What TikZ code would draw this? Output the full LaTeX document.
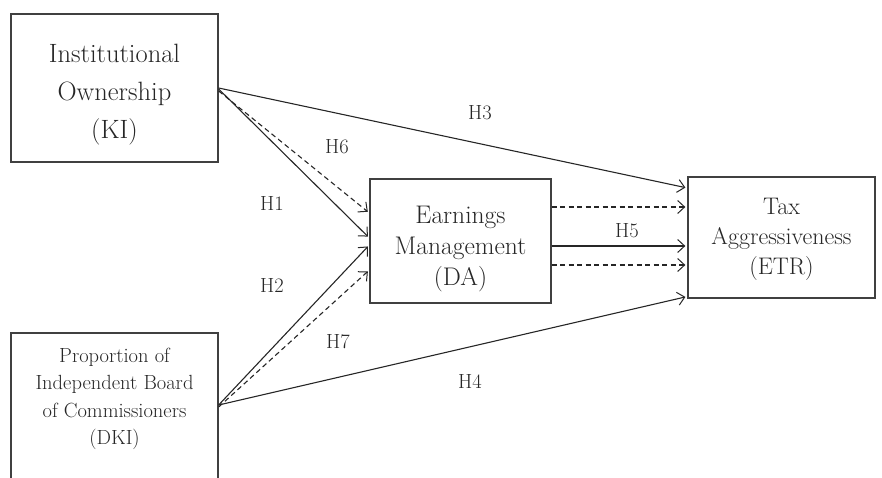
\documentclass[tikz,border=0pt]{standalone}
\usepackage{fontspec}
\usetikzlibrary{arrows.meta}
\begin{document}
\begin{tikzpicture}[x=1pt,y=-1pt,
  box/.style={draw=black!75, line width=1.3pt, rectangle, inner sep=0pt},
  lbl/.style={align=center, text=black!85, inner sep=0pt},
  arr/.style={-{Straight Barb[length=7pt,width=13pt,line width=1pt]}, line width=1.1pt, draw=black!85, shorten >=2pt},
  dsh/.style={arr, dash pattern=on 5pt off 3.5pt},
  hl/.style={font=\fontsize{20.5}{22}\selectfont, text=black!85}]
\clip (0,0) rectangle (882,478);
\node[box, minimum width=207pt, minimum height=148pt] (ki) at (114.5,88) {};
\node[lbl, font=\fontsize{26.5}{38}\selectfont] (kit) at (114.5,95) {Institutional\\Ownership\\(KI)};
\node[box, minimum width=181pt, minimum height=124pt] (da) at (460.5,241) {};
\node[lbl, font=\fontsize{25.5}{31}\selectfont] (dat) at (460.5,249) {Earnings\\Management\\(DA)};
\node[box, minimum width=187pt, minimum height=121pt] (etr) at (781.5,237.5) {};
\node[lbl, font=\fontsize{24}{30}\selectfont] (etrt) at (781.5,239) {Tax\\Aggressiveness\\(ETR)};
\node[box, minimum width=207pt, minimum height=150pt] (dki) at (114.5,408) {};
\node[lbl, font=\fontsize{20.5}{27.5}\selectfont] (dkit) at (114.5,399) {Proportion of\\Independent Board\\of Commissioners\\(DKI)};
% KI arrows
\draw[arr] (ki.east) -- ([yshift=49.5pt]etr.west);
\draw[arr] ([yshift=-1pt]ki.east) -- ([yshift=3pt]da.west);
\draw[dsh] ([yshift=-3pt]ki.east) -- ([yshift=28pt]da.west);
% DKI arrows
\draw[arr] ([yshift=3pt]dki.east) -- ([yshift=-4pt]da.west);
\draw[dsh] ([yshift=1pt]dki.east) -- ([yshift=-29pt]da.west);
\draw[arr] ([yshift=3pt]dki.east) -- ([yshift=-59pt]etr.west);
% DA to ETR
\path ([yshift=34pt]da.east) coordinate (d1)
      ([yshift=-5pt]da.east) coordinate (d2)
      ([yshift=-24pt]da.east) coordinate (d3);
\draw[dsh] (d1) -- (d1 -| etr.west);
\draw[arr] (d2) -- (d2 -| etr.west);
\draw[dsh] (d3) -- (d3 -| etr.west);
% labels
\node[hl] (h3) at (480,113) {H3};
\node[hl] (h6) at (337,147) {H6};
\node[hl] (h1) at (272,203) {H1};
\node[hl] (h2) at (272,285) {H2};
\node[hl] (h7) at (338,342) {H7};
\node[hl] (h4) at (470,381) {H4};
\node[hl] (h5) at (627,231) {H5};
\end{tikzpicture}
\end{document}
